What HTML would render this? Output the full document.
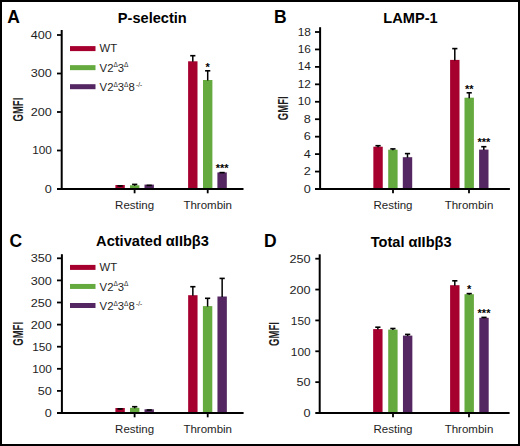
<!DOCTYPE html><html><head><meta charset="utf-8"><style>html,body{margin:0;padding:0;background:#fff;}svg{display:block;}text{font-family:"Liberation Sans",sans-serif;}</style></head><body>
<svg width="520" height="446" viewBox="0 0 520 446">
<rect x="0" y="0" width="520" height="446" fill="#fff"/>
<rect x="1" y="1" width="518" height="444" fill="none" stroke="#000" stroke-width="2"/>
<text x="7.2" y="22.7" font-size="17.5" font-weight="bold" fill="#000">A</text>
<text x="152.3" y="23.0" font-size="14.6" font-weight="bold" text-anchor="middle" fill="#000">P-selectin</text>
<line x1="61.7" y1="30.0" x2="61.7" y2="190.0" stroke="#000" stroke-width="2"/>
<text transform="translate(51.9,192.50) scale(1.1,1)" font-size="11.5" text-anchor="end" fill="#1e1e1e">0</text>
<line x1="57" y1="150.50" x2="61.7" y2="150.50" stroke="#000" stroke-width="1.8"/>
<text transform="translate(51.9,154.00) scale(1.03,1)" font-size="11.5" text-anchor="end" fill="#1e1e1e">100</text>
<line x1="57" y1="112.00" x2="61.7" y2="112.00" stroke="#000" stroke-width="1.8"/>
<text transform="translate(51.9,115.50) scale(1.1,1)" font-size="11.5" text-anchor="end" fill="#1e1e1e">200</text>
<line x1="57" y1="73.50" x2="61.7" y2="73.50" stroke="#000" stroke-width="1.8"/>
<text transform="translate(51.9,77.00) scale(1.1,1)" font-size="11.5" text-anchor="end" fill="#1e1e1e">300</text>
<line x1="57" y1="35.00" x2="61.7" y2="35.00" stroke="#000" stroke-width="1.8"/>
<text transform="translate(51.9,38.50) scale(1.1,1)" font-size="11.5" text-anchor="end" fill="#1e1e1e">400</text>
<line x1="57" y1="189.0" x2="243.5" y2="189.0" stroke="#000" stroke-width="2"/>
<line x1="134.6" y1="189.0" x2="134.6" y2="193.3" stroke="#000" stroke-width="1.8"/>
<text x="134.6" y="208.7" font-size="11.5" text-anchor="middle" fill="#1e1e1e">Resting</text>
<line x1="207.7" y1="189.0" x2="207.7" y2="193.3" stroke="#000" stroke-width="1.8"/>
<text x="207.7" y="208.7" font-size="11.5" text-anchor="middle" fill="#1e1e1e">Thrombin</text>
<text transform="translate(22.85,109.60) rotate(-90) scale(0.68,1)" font-size="14" font-weight="bold" text-anchor="middle" fill="#1e1e1e">GMFI</text>
<rect x="115.40" y="185.00" width="9.4" height="3.00" fill="#a6002f"/>
<line x1="120.10" y1="185.90" x2="120.10" y2="186.40" stroke="#000" stroke-width="1.5"/>
<line x1="117.50" y1="185.90" x2="122.70" y2="185.90" stroke="#000" stroke-width="1.6"/>
<rect x="130.00" y="185.30" width="9.4" height="2.70" fill="#65aa3e"/>
<line x1="134.70" y1="184.40" x2="134.70" y2="185.80" stroke="#000" stroke-width="1.5"/>
<line x1="132.10" y1="184.40" x2="137.30" y2="184.40" stroke="#000" stroke-width="1.6"/>
<rect x="144.50" y="184.60" width="9.4" height="3.40" fill="#552762"/>
<line x1="149.20" y1="185.40" x2="149.20" y2="185.90" stroke="#000" stroke-width="1.5"/>
<line x1="146.60" y1="185.40" x2="151.80" y2="185.40" stroke="#000" stroke-width="1.6"/>
<rect x="188.10" y="61.30" width="9.4" height="126.70" fill="#a6002f"/>
<line x1="192.80" y1="55.70" x2="192.80" y2="61.80" stroke="#000" stroke-width="1.5"/>
<line x1="190.20" y1="55.70" x2="195.40" y2="55.70" stroke="#000" stroke-width="1.6"/>
<rect x="203.00" y="80.00" width="9.4" height="108.00" fill="#65aa3e"/>
<line x1="207.70" y1="70.80" x2="207.70" y2="80.50" stroke="#000" stroke-width="1.5"/>
<line x1="205.10" y1="70.80" x2="210.30" y2="70.80" stroke="#000" stroke-width="1.6"/>
<text x="207.70" y="70.50" font-size="11" font-weight="bold" text-anchor="middle" fill="#000">*</text>
<rect x="217.40" y="172.40" width="9.4" height="15.60" fill="#552762"/>
<line x1="222.10" y1="172.60" x2="222.10" y2="173.10" stroke="#000" stroke-width="1.5"/>
<line x1="219.50" y1="172.60" x2="224.70" y2="172.60" stroke="#000" stroke-width="1.6"/>
<text x="222.10" y="172.30" font-size="11" font-weight="bold" text-anchor="middle" fill="#000">***</text>
<rect x="70" y="46.10" width="25.5" height="5" fill="#a6002f"/>
<text x="99.6" y="52.10" font-size="11.3" fill="#1e1e1e">WT</text>
<rect x="70" y="65.15" width="25.5" height="5" fill="#65aa3e"/>
<text x="99.6" y="71.75" font-size="11.3" fill="#1e1e1e">V2<tspan font-size="6.5" dy="-4.3">Δ</tspan><tspan dy="4.3">3</tspan><tspan font-size="6.5" dy="-4.3">Δ</tspan></text>
<rect x="70" y="84.20" width="25.5" height="5" fill="#552762"/>
<text x="99.6" y="91.00" font-size="11.3" fill="#1e1e1e">V2<tspan font-size="6.5" dy="-4.3">Δ</tspan><tspan dy="4.3">3</tspan><tspan font-size="6.5" dy="-4.3">Δ</tspan><tspan dy="4.3">8</tspan><tspan font-size="6.5" dx="1.3" dy="-4.3">-/-</tspan></text>
<text x="274.0" y="22.7" font-size="17.5" font-weight="bold" fill="#000">B</text>
<text x="410.5" y="23.0" font-size="14.6" font-weight="bold" text-anchor="middle" fill="#000">LAMP-1</text>
<line x1="320.1" y1="27.2" x2="320.1" y2="190.0" stroke="#000" stroke-width="2"/>
<text transform="translate(310.9,192.50) scale(1.1,1)" font-size="11.5" text-anchor="end" fill="#1e1e1e">0</text>
<line x1="315" y1="171.56" x2="320.1" y2="171.56" stroke="#000" stroke-width="1.8"/>
<text transform="translate(310.9,175.06) scale(1.1,1)" font-size="11.5" text-anchor="end" fill="#1e1e1e">2</text>
<line x1="315" y1="154.11" x2="320.1" y2="154.11" stroke="#000" stroke-width="1.8"/>
<text transform="translate(310.9,157.61) scale(1.1,1)" font-size="11.5" text-anchor="end" fill="#1e1e1e">4</text>
<line x1="315" y1="136.67" x2="320.1" y2="136.67" stroke="#000" stroke-width="1.8"/>
<text transform="translate(310.9,140.17) scale(1.1,1)" font-size="11.5" text-anchor="end" fill="#1e1e1e">6</text>
<line x1="315" y1="119.22" x2="320.1" y2="119.22" stroke="#000" stroke-width="1.8"/>
<text transform="translate(310.9,122.72) scale(1.1,1)" font-size="11.5" text-anchor="end" fill="#1e1e1e">8</text>
<line x1="315" y1="101.78" x2="320.1" y2="101.78" stroke="#000" stroke-width="1.8"/>
<text transform="translate(310.9,105.28) scale(1.03,1)" font-size="11.5" text-anchor="end" fill="#1e1e1e">10</text>
<line x1="315" y1="84.33" x2="320.1" y2="84.33" stroke="#000" stroke-width="1.8"/>
<text transform="translate(310.9,87.83) scale(1.03,1)" font-size="11.5" text-anchor="end" fill="#1e1e1e">12</text>
<line x1="315" y1="66.89" x2="320.1" y2="66.89" stroke="#000" stroke-width="1.8"/>
<text transform="translate(310.9,70.39) scale(1.03,1)" font-size="11.5" text-anchor="end" fill="#1e1e1e">14</text>
<line x1="315" y1="49.44" x2="320.1" y2="49.44" stroke="#000" stroke-width="1.8"/>
<text transform="translate(310.9,52.94) scale(1.03,1)" font-size="11.5" text-anchor="end" fill="#1e1e1e">16</text>
<line x1="315" y1="32.00" x2="320.1" y2="32.00" stroke="#000" stroke-width="1.8"/>
<text transform="translate(310.9,35.50) scale(1.03,1)" font-size="11.5" text-anchor="end" fill="#1e1e1e">18</text>
<line x1="315" y1="189.0" x2="509.9" y2="189.0" stroke="#000" stroke-width="2"/>
<line x1="393.0" y1="189.0" x2="393.0" y2="193.3" stroke="#000" stroke-width="1.8"/>
<text x="393.0" y="208.7" font-size="11.5" text-anchor="middle" fill="#1e1e1e">Resting</text>
<line x1="469.0" y1="189.0" x2="469.0" y2="193.3" stroke="#000" stroke-width="1.8"/>
<text x="469.0" y="208.7" font-size="11.5" text-anchor="middle" fill="#1e1e1e">Thrombin</text>
<text transform="translate(288.15,108.30) rotate(-90) scale(0.68,1)" font-size="14" font-weight="bold" text-anchor="middle" fill="#1e1e1e">GMFI</text>
<rect x="373.35" y="146.70" width="9.4" height="41.30" fill="#a6002f"/>
<line x1="378.05" y1="145.70" x2="378.05" y2="147.20" stroke="#000" stroke-width="1.5"/>
<line x1="375.45" y1="145.70" x2="380.65" y2="145.70" stroke="#000" stroke-width="1.6"/>
<rect x="388.20" y="149.70" width="9.4" height="38.30" fill="#65aa3e"/>
<line x1="392.90" y1="148.90" x2="392.90" y2="150.20" stroke="#000" stroke-width="1.5"/>
<line x1="390.30" y1="148.90" x2="395.50" y2="148.90" stroke="#000" stroke-width="1.6"/>
<rect x="402.80" y="157.20" width="9.4" height="30.80" fill="#552762"/>
<line x1="407.50" y1="153.60" x2="407.50" y2="157.70" stroke="#000" stroke-width="1.5"/>
<line x1="404.90" y1="153.60" x2="410.10" y2="153.60" stroke="#000" stroke-width="1.6"/>
<rect x="450.10" y="59.90" width="9.4" height="128.10" fill="#a6002f"/>
<line x1="454.80" y1="48.60" x2="454.80" y2="60.40" stroke="#000" stroke-width="1.5"/>
<line x1="452.20" y1="48.60" x2="457.40" y2="48.60" stroke="#000" stroke-width="1.6"/>
<rect x="464.50" y="97.70" width="9.4" height="90.30" fill="#65aa3e"/>
<line x1="469.20" y1="92.80" x2="469.20" y2="98.20" stroke="#000" stroke-width="1.5"/>
<line x1="466.60" y1="92.80" x2="471.80" y2="92.80" stroke="#000" stroke-width="1.6"/>
<text x="469.20" y="92.50" font-size="11" font-weight="bold" text-anchor="middle" fill="#000">**</text>
<rect x="479.10" y="149.60" width="9.4" height="38.40" fill="#552762"/>
<line x1="483.80" y1="146.70" x2="483.80" y2="150.10" stroke="#000" stroke-width="1.5"/>
<line x1="481.20" y1="146.70" x2="486.40" y2="146.70" stroke="#000" stroke-width="1.6"/>
<text x="483.80" y="146.40" font-size="11" font-weight="bold" text-anchor="middle" fill="#000">***</text>
<text x="9.5" y="246.5" font-size="17.5" font-weight="bold" fill="#000">C</text>
<text x="152.5" y="246.3" font-size="14.6" font-weight="bold" text-anchor="middle" fill="#000">Activated αIIbβ3</text>
<line x1="61.9" y1="254.2" x2="61.9" y2="414.0" stroke="#000" stroke-width="2"/>
<text transform="translate(51.9,417.10) scale(1.1,1)" font-size="11.5" text-anchor="end" fill="#1e1e1e">0</text>
<line x1="57" y1="390.90" x2="61.9" y2="390.90" stroke="#000" stroke-width="1.8"/>
<text transform="translate(51.9,395.00) scale(1.1,1)" font-size="11.5" text-anchor="end" fill="#1e1e1e">50</text>
<line x1="57" y1="368.80" x2="61.9" y2="368.80" stroke="#000" stroke-width="1.8"/>
<text transform="translate(51.9,372.90) scale(1.03,1)" font-size="11.5" text-anchor="end" fill="#1e1e1e">100</text>
<line x1="57" y1="346.70" x2="61.9" y2="346.70" stroke="#000" stroke-width="1.8"/>
<text transform="translate(51.9,350.80) scale(1.03,1)" font-size="11.5" text-anchor="end" fill="#1e1e1e">150</text>
<line x1="57" y1="324.60" x2="61.9" y2="324.60" stroke="#000" stroke-width="1.8"/>
<text transform="translate(51.9,328.70) scale(1.1,1)" font-size="11.5" text-anchor="end" fill="#1e1e1e">200</text>
<line x1="57" y1="302.50" x2="61.9" y2="302.50" stroke="#000" stroke-width="1.8"/>
<text transform="translate(51.9,306.60) scale(1.1,1)" font-size="11.5" text-anchor="end" fill="#1e1e1e">250</text>
<line x1="57" y1="280.40" x2="61.9" y2="280.40" stroke="#000" stroke-width="1.8"/>
<text transform="translate(51.9,284.50) scale(1.1,1)" font-size="11.5" text-anchor="end" fill="#1e1e1e">300</text>
<line x1="57" y1="258.30" x2="61.9" y2="258.30" stroke="#000" stroke-width="1.8"/>
<text transform="translate(51.9,262.40) scale(1.1,1)" font-size="11.5" text-anchor="end" fill="#1e1e1e">350</text>
<line x1="57" y1="413.0" x2="243.6" y2="413.0" stroke="#000" stroke-width="2"/>
<line x1="134.6" y1="413.0" x2="134.6" y2="417.3" stroke="#000" stroke-width="1.8"/>
<text x="134.6" y="432.7" font-size="11.5" text-anchor="middle" fill="#1e1e1e">Resting</text>
<line x1="207.7" y1="413.0" x2="207.7" y2="417.3" stroke="#000" stroke-width="1.8"/>
<text x="207.7" y="432.7" font-size="11.5" text-anchor="middle" fill="#1e1e1e">Thrombin</text>
<text transform="translate(22.90,333.85) rotate(-90) scale(0.68,1)" font-size="14" font-weight="bold" text-anchor="middle" fill="#1e1e1e">GMFI</text>
<rect x="115.40" y="408.00" width="9.4" height="4.00" fill="#a6002f"/>
<line x1="120.10" y1="408.90" x2="120.10" y2="409.40" stroke="#000" stroke-width="1.5"/>
<line x1="117.50" y1="408.90" x2="122.70" y2="408.90" stroke="#000" stroke-width="1.6"/>
<rect x="130.00" y="407.80" width="9.4" height="4.20" fill="#65aa3e"/>
<line x1="134.70" y1="406.70" x2="134.70" y2="408.30" stroke="#000" stroke-width="1.5"/>
<line x1="132.10" y1="406.70" x2="137.30" y2="406.70" stroke="#000" stroke-width="1.6"/>
<rect x="144.50" y="409.30" width="9.4" height="2.70" fill="#552762"/>
<line x1="149.20" y1="410.00" x2="149.20" y2="410.50" stroke="#000" stroke-width="1.5"/>
<line x1="146.60" y1="410.00" x2="151.80" y2="410.00" stroke="#000" stroke-width="1.6"/>
<rect x="188.15" y="295.20" width="9.4" height="116.80" fill="#a6002f"/>
<line x1="192.85" y1="286.70" x2="192.85" y2="295.70" stroke="#000" stroke-width="1.5"/>
<line x1="190.25" y1="286.70" x2="195.45" y2="286.70" stroke="#000" stroke-width="1.6"/>
<rect x="202.90" y="306.10" width="9.4" height="105.90" fill="#65aa3e"/>
<line x1="207.60" y1="298.30" x2="207.60" y2="306.60" stroke="#000" stroke-width="1.5"/>
<line x1="205.00" y1="298.30" x2="210.20" y2="298.30" stroke="#000" stroke-width="1.6"/>
<rect x="217.45" y="296.50" width="9.4" height="115.50" fill="#552762"/>
<line x1="222.15" y1="278.40" x2="222.15" y2="297.00" stroke="#000" stroke-width="1.5"/>
<line x1="219.55" y1="278.40" x2="224.75" y2="278.40" stroke="#000" stroke-width="1.6"/>
<rect x="70" y="264.90" width="25.5" height="5" fill="#a6002f"/>
<text x="99.6" y="270.90" font-size="11.3" fill="#1e1e1e">WT</text>
<rect x="70" y="283.95" width="25.5" height="5" fill="#65aa3e"/>
<text x="99.6" y="290.55" font-size="11.3" fill="#1e1e1e">V2<tspan font-size="6.5" dy="-4.3">Δ</tspan><tspan dy="4.3">3</tspan><tspan font-size="6.5" dy="-4.3">Δ</tspan></text>
<rect x="70" y="303.00" width="25.5" height="5" fill="#552762"/>
<text x="99.6" y="309.80" font-size="11.3" fill="#1e1e1e">V2<tspan font-size="6.5" dy="-4.3">Δ</tspan><tspan dy="4.3">3</tspan><tspan font-size="6.5" dy="-4.3">Δ</tspan><tspan dy="4.3">8</tspan><tspan font-size="6.5" dx="1.3" dy="-4.3">-/-</tspan></text>
<text x="264.0" y="246.6" font-size="17.5" font-weight="bold" fill="#000">D</text>
<text x="411.2" y="246.7" font-size="14.6" font-weight="bold" text-anchor="middle" fill="#000">Total αIIbβ3</text>
<line x1="319.7" y1="254.3" x2="319.7" y2="414.0" stroke="#000" stroke-width="2"/>
<text transform="translate(310.6,417.30) scale(1.1,1)" font-size="11.5" text-anchor="end" fill="#1e1e1e">0</text>
<line x1="315.3" y1="382.14" x2="319.7" y2="382.14" stroke="#000" stroke-width="1.8"/>
<text transform="translate(310.6,386.44) scale(1.1,1)" font-size="11.5" text-anchor="end" fill="#1e1e1e">50</text>
<line x1="315.3" y1="351.28" x2="319.7" y2="351.28" stroke="#000" stroke-width="1.8"/>
<text transform="translate(310.6,355.58) scale(1.03,1)" font-size="11.5" text-anchor="end" fill="#1e1e1e">100</text>
<line x1="315.3" y1="320.42" x2="319.7" y2="320.42" stroke="#000" stroke-width="1.8"/>
<text transform="translate(310.6,324.72) scale(1.03,1)" font-size="11.5" text-anchor="end" fill="#1e1e1e">150</text>
<line x1="315.3" y1="289.56" x2="319.7" y2="289.56" stroke="#000" stroke-width="1.8"/>
<text transform="translate(310.6,293.86) scale(1.1,1)" font-size="11.5" text-anchor="end" fill="#1e1e1e">200</text>
<line x1="315.3" y1="258.70" x2="319.7" y2="258.70" stroke="#000" stroke-width="1.8"/>
<text transform="translate(310.6,263.00) scale(1.1,1)" font-size="11.5" text-anchor="end" fill="#1e1e1e">250</text>
<line x1="315.3" y1="413.0" x2="509.6" y2="413.0" stroke="#000" stroke-width="2"/>
<line x1="393.0" y1="413.0" x2="393.0" y2="417.3" stroke="#000" stroke-width="1.8"/>
<text x="393.0" y="432.7" font-size="11.5" text-anchor="middle" fill="#1e1e1e">Resting</text>
<line x1="469.0" y1="413.0" x2="469.0" y2="417.3" stroke="#000" stroke-width="1.8"/>
<text x="469.0" y="432.7" font-size="11.5" text-anchor="middle" fill="#1e1e1e">Thrombin</text>
<text transform="translate(278.95,334.00) rotate(-90) scale(0.68,1)" font-size="14" font-weight="bold" text-anchor="middle" fill="#1e1e1e">GMFI</text>
<rect x="373.15" y="329.10" width="9.4" height="82.90" fill="#a6002f"/>
<line x1="377.85" y1="327.20" x2="377.85" y2="329.60" stroke="#000" stroke-width="1.5"/>
<line x1="375.25" y1="327.20" x2="380.45" y2="327.20" stroke="#000" stroke-width="1.6"/>
<rect x="388.20" y="329.60" width="9.4" height="82.40" fill="#65aa3e"/>
<line x1="392.90" y1="328.50" x2="392.90" y2="330.10" stroke="#000" stroke-width="1.5"/>
<line x1="390.30" y1="328.50" x2="395.50" y2="328.50" stroke="#000" stroke-width="1.6"/>
<rect x="402.95" y="335.60" width="9.4" height="76.40" fill="#552762"/>
<line x1="407.65" y1="334.40" x2="407.65" y2="336.10" stroke="#000" stroke-width="1.5"/>
<line x1="405.05" y1="334.40" x2="410.25" y2="334.40" stroke="#000" stroke-width="1.6"/>
<rect x="450.10" y="285.20" width="9.4" height="126.80" fill="#a6002f"/>
<line x1="454.80" y1="280.80" x2="454.80" y2="285.70" stroke="#000" stroke-width="1.5"/>
<line x1="452.20" y1="280.80" x2="457.40" y2="280.80" stroke="#000" stroke-width="1.6"/>
<rect x="464.50" y="294.20" width="9.4" height="117.80" fill="#65aa3e"/>
<line x1="469.20" y1="293.60" x2="469.20" y2="294.70" stroke="#000" stroke-width="1.5"/>
<line x1="466.60" y1="293.60" x2="471.80" y2="293.60" stroke="#000" stroke-width="1.6"/>
<text x="469.20" y="293.30" font-size="11" font-weight="bold" text-anchor="middle" fill="#000">*</text>
<rect x="479.30" y="317.80" width="9.4" height="94.20" fill="#552762"/>
<line x1="484.00" y1="317.40" x2="484.00" y2="318.30" stroke="#000" stroke-width="1.5"/>
<line x1="481.40" y1="317.40" x2="486.60" y2="317.40" stroke="#000" stroke-width="1.6"/>
<text x="484.00" y="317.10" font-size="11" font-weight="bold" text-anchor="middle" fill="#000">***</text>
</svg></body></html>
